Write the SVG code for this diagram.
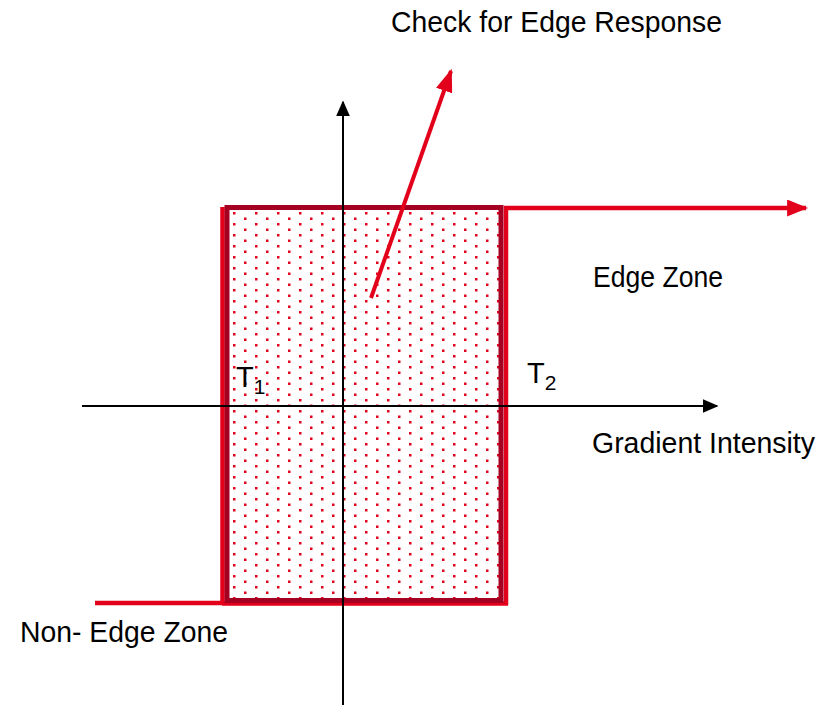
<svg xmlns="http://www.w3.org/2000/svg" width="819" height="706" viewBox="0 0 819 706">
<style>
text{font-family:"Liberation Sans",Arial,sans-serif;fill:#000;font-size:29px}
.sub{font-size:21px}
.red{stroke:#e3001b;fill:none}
.ax{stroke:#000;stroke-width:2;fill:none}
</style>
<defs>
<pattern id="dots" patternUnits="userSpaceOnUse" x="233" y="212" width="22" height="11">
<rect x="0" y="0" width="2.5" height="2.5" fill="#e3001b"/>
<rect x="11" y="5.5" width="2.5" height="2.5" fill="#e3001b"/>
</pattern>
<marker id="ab" viewBox="0 0 10 10" refX="9" refY="5" markerWidth="16" markerHeight="14" markerUnits="userSpaceOnUse" orient="auto" preserveAspectRatio="none"><path d="M0,0 L10,5 L0,10 Z" fill="#000"/></marker>
<marker id="ar" viewBox="0 0 10 10" refX="9" refY="5" markerWidth="21" markerHeight="17" markerUnits="userSpaceOnUse" orient="auto" preserveAspectRatio="none"><path d="M0,0 L10,5 L0,10 Z" fill="#e3001b"/></marker>
<marker id="ar2" viewBox="0 0 10 10" refX="9" refY="5" markerWidth="23" markerHeight="17" markerUnits="userSpaceOnUse" orient="auto" preserveAspectRatio="none"><path d="M0,0 L10,5 L0,10 Z" fill="#e3001b"/></marker>
</defs>
<g id="zone">
<rect x="227" y="207" width="274" height="393" fill="url(#dots)"/>
<path class="red" stroke-width="4.5" d="M95,603 H222.5 V207 M506,206 V605 M222,603.5 H508"/>
<rect x="227" y="207.5" width="274" height="393" fill="none" stroke="#a50021" stroke-width="5"/>
</g>
<g id="connectors">
<line class="red" stroke-width="4.5" x1="504" y1="208" x2="806" y2="208" marker-end="url(#ar)"/>
<line class="red" stroke-width="4" x1="371" y1="298" x2="451" y2="71" marker-end="url(#ar2)"/>
<line class="ax" x1="343" y1="705" x2="343" y2="102" marker-end="url(#ab)"/>
<line class="ax" x1="82" y1="406" x2="717" y2="406" marker-end="url(#ab)"/>
</g>
<g id="labels">
<text x="391" y="32" textLength="331" lengthAdjust="spacingAndGlyphs">Check for Edge Response</text>
<text x="593" y="287" textLength="130" lengthAdjust="spacingAndGlyphs">Edge Zone</text>
<text x="592" y="453" textLength="223" lengthAdjust="spacingAndGlyphs">Gradient Intensity</text>
<text x="20" y="642" textLength="208" lengthAdjust="spacingAndGlyphs">Non- Edge Zone</text>
<text x="236" y="387">T<tspan class="sub" dy="7">1</tspan></text>
<text x="527" y="383">T<tspan class="sub" dy="7">2</tspan></text>
</g>
</svg>
